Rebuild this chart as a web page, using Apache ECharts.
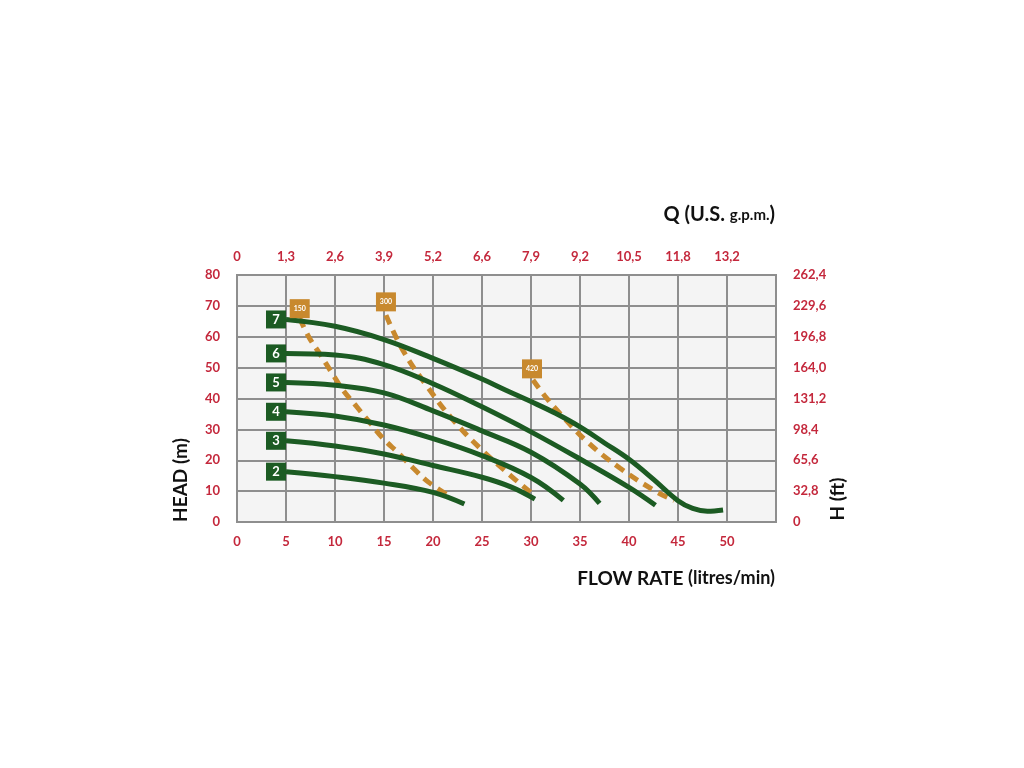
<!DOCTYPE html>
<html>
<head>
<meta charset="utf-8">
<script src="https://cdn.jsdelivr.net/npm/echarts@6/dist/echarts.min.js"></script>
<style>
html,body{margin:0;padding:0;background:#fff;}
#chart{width:1024px;height:768px;}
</style>
</head>
<body>
<div id="chart"></div>
<script>
// Axis tick labels
const flowTicks = [0,5,10,15,20,25,30,35,40,45,50];
const gpmLabels = ['0','1,3','2,6','3,9','5,2','6,6','7,9','9,2','10,5','11,8','13,2'];
const headTicks = [0,10,20,30,40,50,60,70,80];
const ftLabels = ['0','32,8','65,6','98,4','131,2','164,0','196,8','229,6','262,4'];

// Pump curves (flow l/min, head m)
const curveNames = ['7','6','5','4','3','2'];
const curve7 = [[5,65.6],[10,63.4],[15,59.1],[20,53],[25,46.3],[27.5,42.6],[30,39],[32.5,35.2],[35,30.8],[37.5,25.6],[40,20.3],[42.5,13.8],[45,6.9],[46.5,4.4],[48,3.5],[49.6,3.9]];
const curve6 = [[5,54.6],[10,54.1],[15,51],[20,44.8],[25,37.3],[30,29.2],[35,20.4],[40,11.2],[42.7,5.4]];
const curve5 = [[5,45.2],[10,44.3],[15,41.8],[20,36],[25,29.5],[30,22.6],[35,12.3],[37,6]];
const curve4 = [[5,35.7],[10,34.3],[15,31.4],[20,27],[25,21.5],[30,14.4],[33.3,7]];
const curve3 = [[5,26.3],[10,24.6],[15,22],[20,18.3],[25,14.5],[28,11.3],[30.4,7.4]];
const curve2 = [[5,16.3],[10,14.7],[15,12.6],[20,9.6],[23.2,5.8]];

// Power lines (dashed)
const powerNames = ['150','300','420'];
const power150 = [[6.4,66],[7.3,60.1],[8.5,54.2],[9.7,48.2],[10.8,42.8],[12.2,37.4],[13.6,32],[14.9,27.1],[16.5,22.2],[18,17.4],[19.5,13],[21.7,8.3]];
const power300 = [[15.2,67],[17,55.2],[19.4,43.9],[21.9,33.6],[24.8,23.9],[28,14.8],[30,9.5]];
const power420 = [[30.2,46],[31.6,40.1],[33,35],[35.8,25.8],[39.1,17.4],[42.8,9.8],[44.6,7]];
const powerTags = [[6.4,69.1],[15.2,71.3],[30.1,49.6]];

const GREEN = '#1c5b23';
const ORANGE = '#c8892e';
const RED = '#c4283c';
const GRID = '#8e8e8e';
const FONT = 'Lato';

const curves = [curve7, curve6, curve5, curve4, curve3, curve2];
const powers = [power150, power300, power420];

const series = [];
powers.forEach((d) => {
  series.push({
    type: 'line', data: d, smooth: 0.4, symbol: 'none', z: 3,
    lineStyle: { color: ORANGE, width: 5, type: [10, 7] }
  });
});
curves.forEach((d) => {
  series.push({
    type: 'line', data: d, smooth: 0.4, symbol: 'none', z: 4,
    lineStyle: { color: GREEN, width: 5 }
  });
});
series.push({
  type: 'scatter', z: 6,
  data: curves.map((d, i) => ({ value: d[0], name: curveNames[i] })),
  symbol: 'rect', symbolSize: [20, 18], symbolOffset: [-10, 0],
  itemStyle: { color: GREEN, opacity: 1 },
  label: { show: true, position: 'inside', formatter: p => p.name,
    color: '#fff', fontFamily: FONT, fontWeight: 'bold', fontSize: 13 }
});
series.push({
  type: 'scatter', z: 6,
  data: powerTags.map((d, i) => ({ value: d, name: powerNames[i] })),
  symbol: 'rect', symbolSize: [20, 19],
  itemStyle: { color: ORANGE, opacity: 1 },
  label: { show: true, position: 'inside', formatter: p => p.name,
    color: '#fff', fontFamily: FONT, fontWeight: 'bold', fontSize: 7 }
});

const chart = echarts.init(document.getElementById('chart'), null, { renderer: 'canvas' });
chart.setOption({
  backgroundColor: '#ffffff',
  animation: false,
  grid: { left: 237, right: 248, top: 275, bottom: 246, show: true,
    backgroundColor: '#f4f4f4', borderColor: GRID, borderWidth: 2 },
  xAxis: [
    { type: 'value', position: 'bottom', min: 0, max: 55, interval: 5,
      axisLine: { show: false }, axisTick: { show: false },
      splitLine: { show: true, lineStyle: { color: GRID, width: 2 } },
      axisLabel: { color: RED, fontFamily: FONT, fontWeight: 'bold', fontSize: 13, margin: 13,
        formatter: v => flowTicks.indexOf(v) >= 0 ? String(v) : '' } },
    { type: 'value', position: 'top', min: 0, max: 55, interval: 5,
      axisLine: { show: false }, axisTick: { show: false }, splitLine: { show: false },
      axisLabel: { color: RED, fontFamily: FONT, fontWeight: 'bold', fontSize: 13, margin: 12,
        formatter: v => { const i = flowTicks.indexOf(v); return i >= 0 ? gpmLabels[i] : ''; } } }
  ],
  yAxis: [
    { type: 'value', position: 'left', min: 0, max: 80, interval: 10,
      axisLine: { show: false }, axisTick: { show: false },
      splitLine: { show: true, lineStyle: { color: GRID, width: 2 } },
      axisLabel: { color: RED, fontFamily: FONT, fontWeight: 'bold', fontSize: 13, margin: 17,
        formatter: v => String(v) } },
    { type: 'value', position: 'right', min: 0, max: 80, interval: 10,
      axisLine: { show: false }, axisTick: { show: false }, splitLine: { show: false },
      axisLabel: { color: RED, fontFamily: FONT, fontWeight: 'bold', fontSize: 13, margin: 17,
        formatter: v => { const i = headTicks.indexOf(v); return i >= 0 ? ftLabels[i] : ''; } } }
  ],
  series: series,
  graphic: [
    { type: 'text', right: 249, top: 205, style: { rich: {
        a: { fontFamily: FONT, fontSize: 20, fontWeight: 'bold', fill: '#111' },
        b: { fontFamily: FONT, fontSize: 15, fontWeight: 'bold', fill: '#111' } },
      text: '{a|Q (U.S. }{b|g.p.m.}{a|)}' } },
    { type: 'text', right: 249, top: 569, style: { rich: {
        a: { fontFamily: FONT, fontSize: 19, fontWeight: 'bold', fill: '#111' },
        b: { fontFamily: FONT, fontSize: 18, fontWeight: 'bold', fill: '#111' } },
      text: '{a|FLOW RATE }{b|(litres/min)}' } },
    { type: 'text', x: 181, y: 480, rotation: Math.PI / 2,
      style: { text: 'HEAD (m)', fontFamily: FONT, fontSize: 19, fontWeight: 'bold', fill: '#111',
        align: 'center', verticalAlign: 'middle' } },
    { type: 'text', x: 838, y: 499, rotation: Math.PI / 2,
      style: { text: 'H (ft)', fontFamily: FONT, fontSize: 19, fontWeight: 'bold', fill: '#111',
        align: 'center', verticalAlign: 'middle' } }
  ]
});
</script>
</body>
</html>
